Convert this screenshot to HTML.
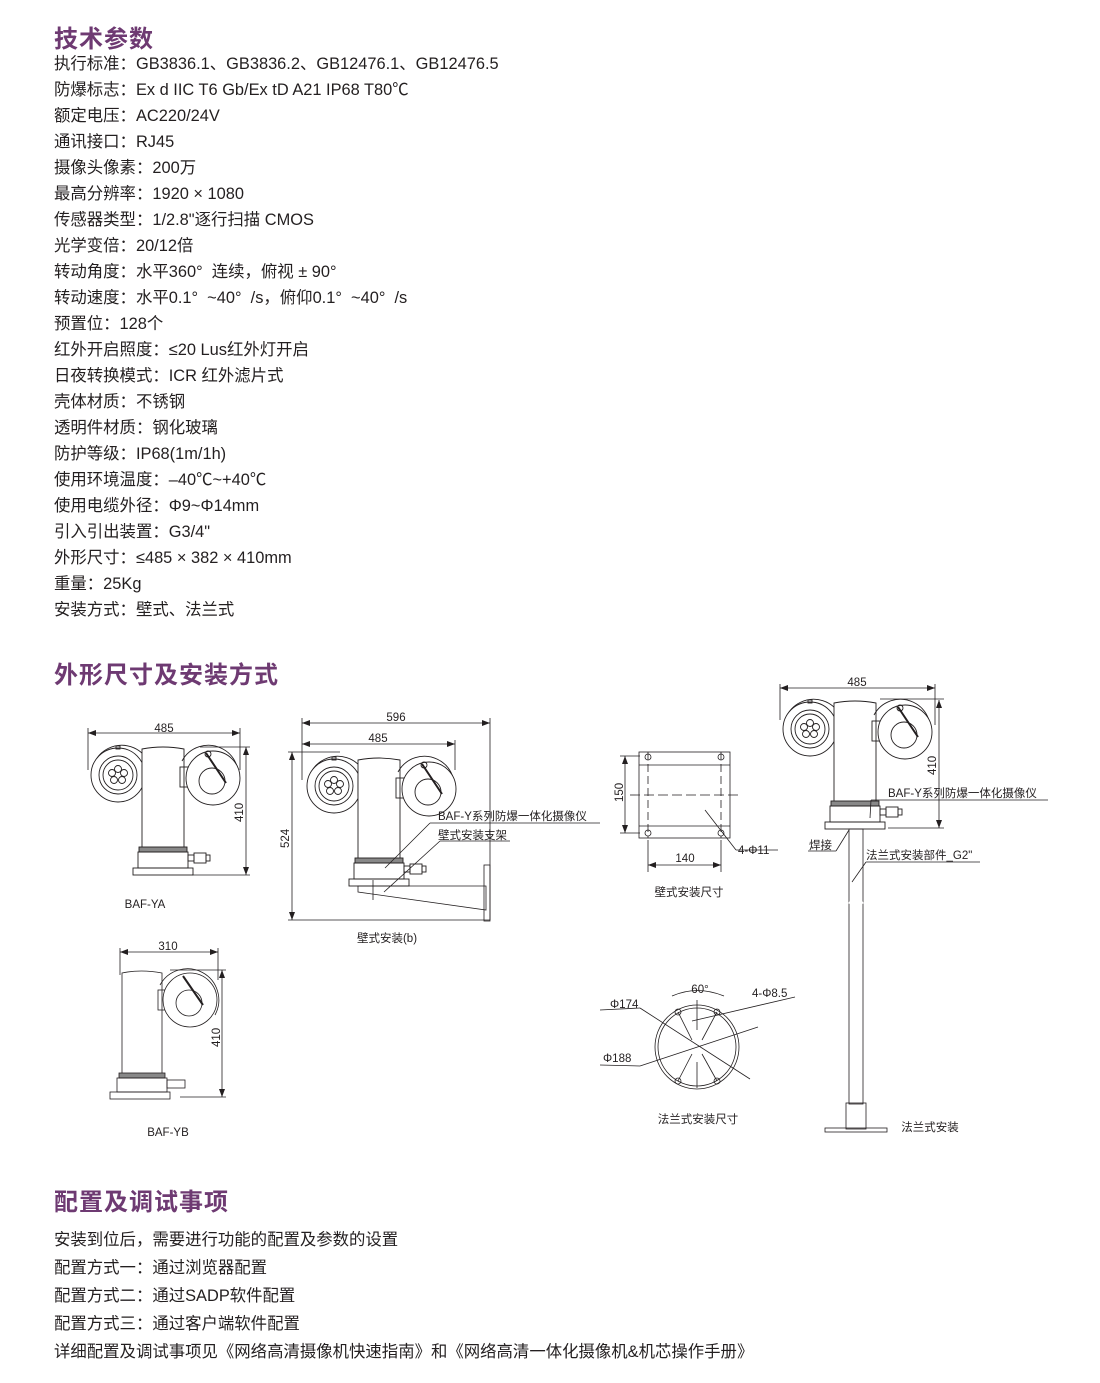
<!DOCTYPE html>
<html><head><meta charset="utf-8"><style>
body{margin:0;background:#fff;width:1100px;height:1383px;overflow:hidden;position:relative;font-family:"Liberation Sans","Noto Sans CJK SC",sans-serif;color:#231f20}
.h{position:absolute;left:54px;font-size:24px;font-weight:bold;color:#6e3a72;letter-spacing:1px}
.l{position:absolute;left:54px;font-size:16.4px;white-space:nowrap}
svg{position:absolute;left:0;top:0}
svg text{font-family:"Liberation Sans","Noto Sans CJK SC",sans-serif;fill:#231f20}
</style></head><body>
<div class="h" style="top:19px">技术参数</div>
<div class="l" style="top:50px">执行标准：GB3836.1、GB3836.2、GB12476.1、GB12476.5</div>
<div class="l" style="top:76px">防爆标志：Ex d IIC T6 Gb/Ex tD A21 IP68 T80℃</div>
<div class="l" style="top:102px">额定电压：AC220/24V</div>
<div class="l" style="top:128px">通讯接口：RJ45</div>
<div class="l" style="top:154px">摄像头像素：200万</div>
<div class="l" style="top:180px">最高分辨率：1920 × 1080</div>
<div class="l" style="top:206px">传感器类型：1/2.8"逐行扫描 CMOS</div>
<div class="l" style="top:232px">光学变倍：20/12倍</div>
<div class="l" style="top:258px">转动角度：水平360°&nbsp;&nbsp;连续，俯视 ± 90°</div>
<div class="l" style="top:284px">转动速度：水平0.1°&nbsp;&nbsp;~40°&nbsp;&nbsp;/s，俯仰0.1°&nbsp;&nbsp;~40°&nbsp;&nbsp;/s</div>
<div class="l" style="top:310px">预置位：128个</div>
<div class="l" style="top:336px">红外开启照度：≤20 Lus红外灯开启</div>
<div class="l" style="top:362px">日夜转换模式：ICR 红外滤片式</div>
<div class="l" style="top:388px">壳体材质：不锈钢</div>
<div class="l" style="top:414px">透明件材质：钢化玻璃</div>
<div class="l" style="top:440px">防护等级：IP68(1m/1h)</div>
<div class="l" style="top:466px">使用环境温度：–40℃~+40℃</div>
<div class="l" style="top:492px">使用电缆外径：Φ9~Φ14mm</div>
<div class="l" style="top:518px">引入引出装置：G3/4"</div>
<div class="l" style="top:544px">外形尺寸：≤485 × 382 × 410mm</div>
<div class="l" style="top:570px">重量：25Kg</div>
<div class="l" style="top:596px">安装方式：壁式、法兰式</div>
<div class="h" style="top:655px">外形尺寸及安装方式</div>
<div class="h" style="top:1182px">配置及调试事项</div>
<div class="l" style="top:1226px">安装到位后，需要进行功能的配置及参数的设置</div>
<div class="l" style="top:1254px">配置方式一：通过浏览器配置</div>
<div class="l" style="top:1282px">配置方式二：通过SADP软件配置</div>
<div class="l" style="top:1310px">配置方式三：通过客户端软件配置</div>
<div class="l" style="top:1338px">详细配置及调试事项见《网络高清摄像机快速指南》和《网络高清一体化摄像机&amp;机芯操作手册》</div>

<svg width="1100" height="1383" viewBox="0 0 1100 1383">
<defs>
<marker id="a" markerWidth="8" markerHeight="6" refX="8" refY="3" orient="auto-start-reverse" markerUnits="userSpaceOnUse"><path d="M0,0L8,3L0,6z" fill="#231f20"/></marker>
<g id="cam" fill="none" stroke="#231f20" stroke-width="0.9">
<path d="M6,42 A30,30 0 0 1 60,16"/>
<circle cx="30" cy="30" r="27" fill="#fff"/>
<circle cx="30" cy="30" r="19"/>
<circle cx="30" cy="30" r="15"/>
<circle cx="30" cy="24" r="3.5"/><circle cx="36" cy="28" r="3.5"/><circle cx="34" cy="35" r="3.5"/><circle cx="26" cy="35" r="3.5"/><circle cx="24" cy="28" r="3.5"/>
<rect x="28" y="1" width="4" height="3"/>
<rect x="54" y="20" width="8" height="20"/>
<path d="M54,4 Q75,0 96,4 L96,103 L54,103 Z" fill="#fff"/>
<path d="M148,42 A30,30 0 0 0 94,16"/>
<rect x="92" y="22" width="10" height="20"/>
<circle cx="125" cy="33" r="27" fill="#fff"/>
<circle cx="124" cy="36" r="13"/>
<path d="M118,8 L138,38" stroke-width="2"/>
<circle cx="120" cy="9" r="3"/>
<rect x="51" y="102" width="48" height="5" fill="#888" stroke="#231f20"/>
<rect x="50" y="107" width="50" height="16"/>
<rect x="45" y="123" width="60" height="7"/>
<rect x="100" y="110" width="6" height="6"/>
<rect x="106" y="108" width="12" height="10"/>
<rect x="118" y="110" width="4" height="6"/>
</g>
</defs>
<g stroke="#231f20" stroke-width="0.8" fill="none">
<use href="#cam" x="88" y="745"/>
<line x1="88" y1="733" x2="240" y2="733" marker-start="url(#a)" marker-end="url(#a)"/>
<line x1="88" y1="728" x2="88" y2="770"/><line x1="240" y1="728" x2="240" y2="770"/>
<line x1="246" y1="747" x2="246" y2="875" marker-start="url(#a)" marker-end="url(#a)"/>
<line x1="200" y1="747" x2="250" y2="747"/><line x1="192" y1="875" x2="250" y2="875"/>
<use href="#cam" x="304" y="756"/>
<line x1="302" y1="723" x2="490" y2="723" marker-start="url(#a)" marker-end="url(#a)"/>
<line x1="302" y1="744" x2="455" y2="744" marker-start="url(#a)" marker-end="url(#a)"/>
<line x1="302" y1="718" x2="302" y2="780"/><line x1="455" y1="740" x2="455" y2="770"/><line x1="490" y1="718" x2="490" y2="920"/>
<line x1="292" y1="752" x2="292" y2="920" marker-start="url(#a)" marker-end="url(#a)"/>
<line x1="288" y1="752" x2="340" y2="752"/><line x1="288" y1="920" x2="490" y2="920"/>
<path d="M358,886 L486,886 L486,910 L358,892 Z"/>
<rect x="484" y="865" width="6" height="56"/>
<line x1="373" y1="880" x2="373" y2="900"/>
<line x1="385" y1="868" x2="430" y2="823"/><line x1="430" y1="823" x2="600" y2="823"/>
<line x1="384" y1="892" x2="440" y2="841"/><line x1="440" y1="841" x2="510" y2="841"/>
<g fill="none">
<path d="M122,973 Q141,969 162,973 L162,1075 L122,1075 Z"/>
<rect x="158" y="990" width="10" height="20"/>
<path d="M215,1015 A30,30 0 0 0 160,985"/>
<circle cx="190" cy="1000" r="27" fill="#fff"/>
<circle cx="189" cy="1003" r="13"/>
<path d="M183,976 L203,1005" stroke-width="2"/>
<rect x="119" y="1073" width="46" height="5" fill="#888"/>
<rect x="117" y="1078" width="50" height="14"/>
<rect x="110" y="1092" width="60" height="7"/>
<rect x="167" y="1080" width="18" height="8"/>
</g>
<line x1="120" y1="952" x2="218" y2="952" marker-start="url(#a)" marker-end="url(#a)"/>
<line x1="120" y1="948" x2="120" y2="975"/><line x1="218" y1="948" x2="218" y2="980"/>
<line x1="222" y1="970" x2="222" y2="1097" marker-start="url(#a)" marker-end="url(#a)"/>
<line x1="170" y1="970" x2="226" y2="970"/><line x1="180" y1="1097" x2="226" y2="1097"/>
<rect x="639" y="752" width="91" height="86"/>
<line x1="639" y1="765" x2="730" y2="765"/><line x1="639" y1="826" x2="730" y2="826"/>
<line x1="648" y1="752" x2="648" y2="838" stroke-dasharray="8,4"/><line x1="721" y1="752" x2="721" y2="838" stroke-dasharray="8,4"/>
<line x1="630" y1="795" x2="738" y2="795" stroke-dasharray="10,4"/>
<circle cx="648" cy="757" r="3"/><circle cx="721" cy="757" r="3"/><circle cx="648" cy="833" r="3"/><circle cx="721" cy="833" r="3"/>
<line x1="625" y1="756" x2="625" y2="833" marker-start="url(#a)" marker-end="url(#a)"/>
<line x1="620" y1="756" x2="640" y2="756"/><line x1="620" y1="833" x2="640" y2="833"/>
<line x1="648" y1="840" x2="648" y2="872"/><line x1="721" y1="840" x2="721" y2="872"/>
<line x1="648" y1="865" x2="721" y2="865" marker-start="url(#a)" marker-end="url(#a)"/>
<line x1="705" y1="810" x2="736" y2="850"/><line x1="736" y1="850" x2="778" y2="850"/>
<circle cx="697" cy="1047" r="42"/><circle cx="697" cy="1047" r="39"/>
<circle cx="678" cy="1012" r="3"/><circle cx="717" cy="1012" r="3"/><circle cx="678" cy="1081" r="3"/><circle cx="717" cy="1081" r="3"/>
<line x1="697" y1="1000" x2="697" y2="1030"/>
<line x1="678" y1="1012" x2="692" y2="1040"/><line x1="717" y1="1012" x2="702" y2="1040"/>
<line x1="678" y1="1081" x2="692" y2="1054"/><line x1="717" y1="1081" x2="702" y2="1054"/>
<line x1="697" y1="1062" x2="697" y2="1088"/>
<line x1="640" y1="1008" x2="750" y2="1079"/>
<line x1="640" y1="1066" x2="758" y2="1027"/>
<line x1="600" y1="1010" x2="640" y2="1008"/><line x1="600" y1="1065" x2="640" y2="1066"/>
<line x1="692" y1="1021" x2="795" y2="997"/>
<path d="M672,996 Q697,985 724,996"/>
<use href="#cam" x="780" y="699"/>
<line x1="780" y1="688" x2="935" y2="688" marker-start="url(#a)" marker-end="url(#a)"/>
<line x1="780" y1="684" x2="780" y2="720"/><line x1="935" y1="684" x2="935" y2="725"/>
<line x1="939" y1="700" x2="939" y2="828" marker-start="url(#a)" marker-end="url(#a)"/>
<line x1="880" y1="699" x2="944" y2="699"/><line x1="888" y1="828" x2="944" y2="828"/>
<rect x="849" y="829" width="14" height="275"/>
<path d="M849,902 Q856,906 863,902" stroke="#fff" stroke-width="3"/>
<rect x="846" y="1103" width="20" height="26"/>
<rect x="825" y="1128" width="62" height="4"/>
<line x1="871" y1="800" x2="1048" y2="800"/><line x1="871" y1="800" x2="870" y2="818"/>
<line x1="836" y1="851" x2="849" y2="830"/><line x1="808" y1="851" x2="836" y2="851"/>
<line x1="852" y1="882" x2="866" y2="862"/><line x1="866" y1="862" x2="980" y2="862"/>
</g>
<g font-size="11.5" text-anchor="middle">
<text x="164" y="732">485</text>
<text x="145" y="908">BAF-YA</text>
<text x="396" y="721">596</text>
<text x="378" y="742">485</text>
<text x="387" y="942">壁式安装(b)</text>
<text x="168" y="950">310</text>
<text x="168" y="1136">BAF-YB</text>
<text x="685" y="862">140</text>
<text x="689" y="896">壁式安装尺寸</text>
<text x="700" y="993">60°</text>
<text x="698" y="1123">法兰式安装尺寸</text>
<text x="857" y="686">485</text>
<text x="930" y="1131">法兰式安装</text>
</g>
<g font-size="11.5">
<text x="438" y="820">BAF-Y系列防爆一体化摄像仪</text>
<text x="438" y="839">壁式安装支架</text>
<text x="738" y="854">4-Φ11</text>
<text x="752" y="997">4-Φ8.5</text>
<text x="610" y="1008">Φ174</text>
<text x="603" y="1062">Φ188</text>
<text x="888" y="797">BAF-Y系列防爆一体化摄像仪</text>
<text x="809" y="849">焊接</text>
<text x="866" y="859">法兰式安装部件_G2"</text>
<text transform="translate(243,822) rotate(-90)">410</text>
<text transform="translate(289,848) rotate(-90)">524</text>
<text transform="translate(220,1047) rotate(-90)">410</text>
<text transform="translate(623,802) rotate(-90)">150</text>
<text transform="translate(936,775) rotate(-90)">410</text>
</g>
</svg>
</body></html>
